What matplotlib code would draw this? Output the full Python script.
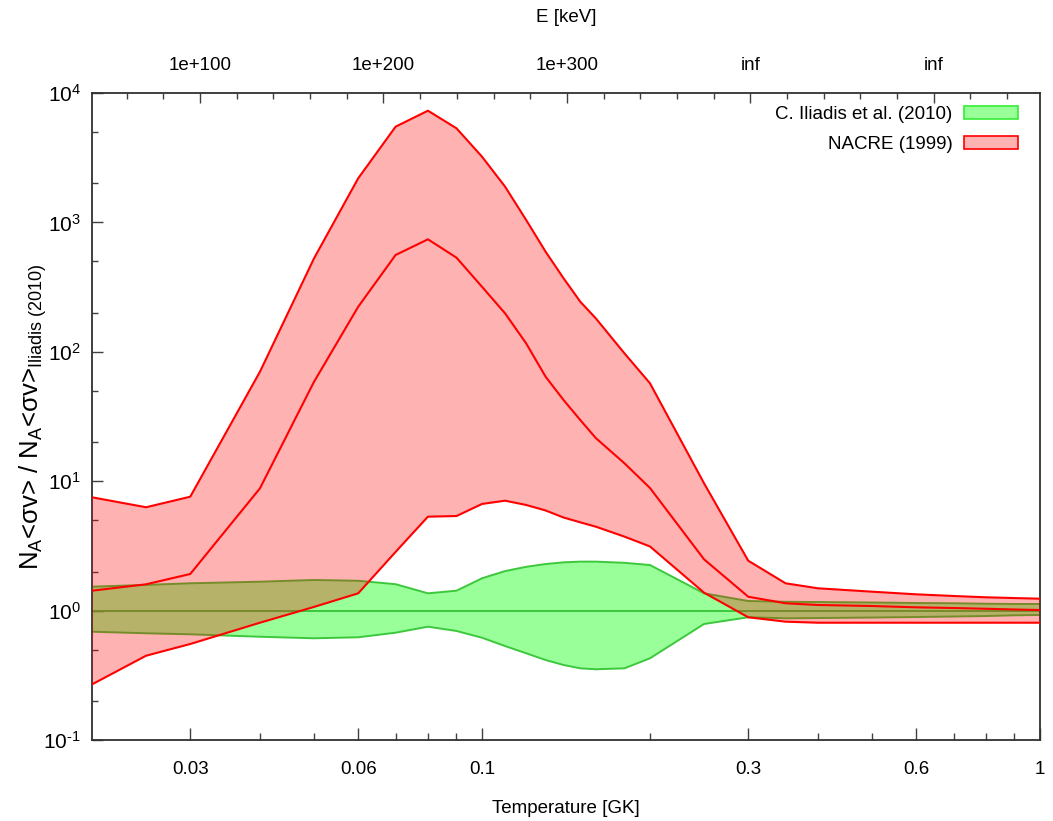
import math
import matplotlib
matplotlib.use("Agg")
import matplotlib.pyplot as plt
from matplotlib.patches import Patch
from matplotlib.ticker import (FixedLocator, NullFormatter, LogLocator, MultipleLocator,
                               FuncFormatter)

plt.rcParams['font.family'] = ['Liberation Sans', 'DejaVu Sans']
plt.rcParams['mathtext.fontset'] = 'custom'
plt.rcParams['mathtext.rm'] = 'Liberation Sans'
plt.rcParams['mathtext.it'] = 'Liberation Sans:italic'
plt.rcParams['mathtext.bf'] = 'Liberation Sans:bold'
plt.rcParams['axes.unicode_minus'] = False

# ---- data ----
temperature = [0.02, 0.025, 0.03, 0.04, 0.05, 0.06, 0.07, 0.08, 0.09, 0.1,
               0.11, 0.12, 0.13, 0.14, 0.15, 0.16, 0.18, 0.2, 0.25, 0.3,
               0.35, 0.4, 0.5, 0.6, 0.7, 0.8, 0.9, 1.0]

nacre_high = [7.51, 6.29, 7.59, 70.2, 528, 2193, 5491, 7300, 5336, 3221,
              1888, 1043, 594, 370, 244, 181, 97.3, 57.1, 9.63, 2.43,
              1.625, 1.487, 1.40, 1.336, 1.297, 1.267, 1.25, 1.236]
nacre_rec = [1.425, 1.597, 1.918, 8.81, 58.7, 223, 560, 740, 534, 318,
             198, 116, 64.2, 42.4, 29.7, 21.5, 13.75, 8.86, 2.49, 1.28,
             1.139, 1.105, 1.085, 1.06, 1.047, 1.033, 1.02, 1.01]
nacre_low = [0.269, 0.448, 0.552, 0.806, 1.068, 1.36, 2.84, 5.32, 5.38, 6.67,
             7.07, 6.55, 5.94, 5.24, 4.81, 4.45, 3.73, 3.13, 1.375, 0.888,
             0.821, 0.806, 0.806, 0.806, 0.806, 0.806, 0.806, 0.806]

iliadis_high = [1.53, 1.58, 1.626, 1.672, 1.724, 1.70, 1.60, 1.36, 1.425, 1.777,
                2.02, 2.18, 2.29, 2.36, 2.39, 2.39, 2.34, 2.25, 1.36, 1.186,
                1.17, 1.165, 1.155, 1.145, 1.14, 1.13, 1.125, 1.125]
iliadis_rec = [1.0] * len(temperature)
iliadis_low = [0.687, 0.668, 0.656, 0.628, 0.611, 0.622, 0.675, 0.751, 0.696, 0.617,
               0.532, 0.468, 0.415, 0.380, 0.358, 0.352, 0.358, 0.428, 0.788, 0.888,
               0.872, 0.876, 0.884, 0.892, 0.90, 0.908, 0.92, 0.925]

x_major = [0.03, 0.06, 0.1, 0.3, 0.6, 1.0]
x_major_labels = ['0.03', '0.06', '0.1', '0.3', '0.6', '1']
x_minor = [0.04, 0.05, 0.07, 0.08, 0.09, 0.2, 0.4, 0.5, 0.7, 0.8, 0.9]

top_ticks = [100, 200, 300, 400, 500]
top_labels = ['1e+100', '1e+200', '1e+300', 'inf', 'inf']
top_range = (41.1, 557.9)

labels = ['C. Iliadis et al. (2010)', 'NACRE (1999)']

# ---- figure ----
fig = plt.figure(figsize=(10.53, 8.21), dpi=100)
ax = fig.add_axes([92/1053, 81/821, 948/1053, 647/821])

green_line = '#3cc83c'
ax.fill_between(temperature, iliadis_low, iliadis_high, facecolor=(0, 1, 0, 0.4),
                edgecolor='none', zorder=1)
for s in (iliadis_high, iliadis_low, iliadis_rec):
    ax.plot(temperature, s, color=green_line, lw=1.4, zorder=2)

ax.fill_between(temperature, nacre_low, nacre_high, facecolor=(1, 0, 0, 0.3),
                edgecolor='none', zorder=3)
for s in (nacre_high, nacre_rec, nacre_low):
    ax.plot(temperature, s, color='red', lw=1.5, zorder=4)

ax.set_xscale('log')
ax.set_yscale('log')
ax.set_xlim(0.02, 1.0)
ax.set_ylim(0.1, 1e4)

ax.xaxis.set_major_locator(FixedLocator(x_major))
ax.set_xticklabels(x_major_labels)
ax.xaxis.set_minor_locator(FixedLocator(x_minor))
ax.xaxis.set_minor_formatter(NullFormatter())
ax.yaxis.set_major_locator(LogLocator(base=10, numticks=10))
ax.yaxis.set_minor_locator(LogLocator(base=10, subs=(2.0, 5.0), numticks=10))
ax.yaxis.set_minor_formatter(NullFormatter())


def pow10(v, _pos):
    e = int(round(math.log10(v)))
    s = str(e) if e >= 0 else r'\text{-}' + str(-e)
    return r'$\mathdefault{10^{%s}}$' % s


ax.yaxis.set_major_formatter(FuncFormatter(pow10))

tick_col = '#404040'
ax.tick_params(which='both', direction='in', top=False, right=False, color=tick_col)
ax.tick_params(axis='x', which='major', length=9, width=1, pad=15, labelsize=13.5)
ax.tick_params(axis='x', which='minor', length=5, width=1)
ax.tick_params(axis='y', which='major', length=8, width=1, pad=8, labelsize=15)
ax.tick_params(axis='y', which='minor', length=4.5, width=1)
for sp in ax.spines.values():
    sp.set_color('#303030')
    sp.set_linewidth(1.3)

ax.set_xlabel('Temperature [GK]', fontsize=13.5, labelpad=16)
ax.set_ylabel(r'N$_\mathrm{A}$<σv> / N$_\mathrm{A}$<σv>$_\mathrm{Iliadis\ (2010)}$',
              fontsize=18.5)
ax.yaxis.set_label_coords(-43/948, 0.5)

ax2 = ax.twiny()
ax2.set_xlim(*top_range)
ax2.set_xticks(top_ticks)
ax2.set_xticklabels(top_labels)
ax2.xaxis.set_minor_locator(MultipleLocator(20))
ax2.tick_params(which='both', direction='in', color=tick_col, labelsize=13.5)
ax2.tick_params(which='major', length=7, width=1, pad=14)
ax2.tick_params(which='minor', length=4, width=1)
ax2.set_xlabel('E [keV]', fontsize=13.5, labelpad=25)
for sp in ax2.spines.values():
    sp.set_visible(False)

handles = [Patch(facecolor=(0, 1, 0, 0.4), edgecolor='#33ee33', lw=1.2),
           Patch(facecolor=(1, 0, 0, 0.3), edgecolor='red', lw=1.2)]
leg = ax.legend(handles, labels, loc='upper right', bbox_to_anchor=(1 - 22/948, 1 - 13/647),
                frameon=False, markerfirst=False, fontsize=13.5, handlelength=2.9,
                handleheight=0.7, handletextpad=0.6, labelspacing=0.7,
                borderaxespad=0, borderpad=0)

fig.savefig('out.png', dpi=100)
